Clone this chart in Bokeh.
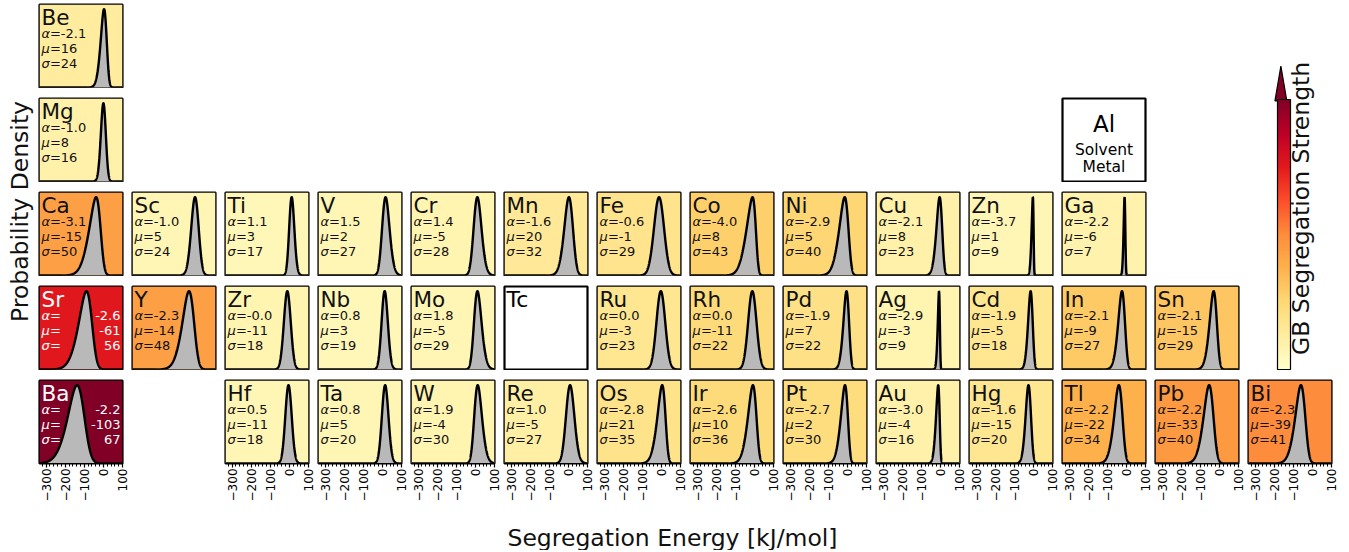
import math
import numpy as np
from bokeh.plotting import figure
from bokeh.models import (Range1d, LinearColorMapper, ColorBar, FixedTicker, GridBox,
                          ColumnDataSource, Label, SingleIntervalTicker, Spacer)
from bokeh.layouts import row, column
from bokeh.palettes import YlOrRd9
from bokeh.transform import transform
from bokeh.embed import file_html
from bokeh.resources import INLINE

# ---------------- data ----------------
elements = ["Be", "Mg", "Ca", "Sc", "Ti", "V", "Cr", "Mn", "Fe", "Co", "Ni", "Cu", "Zn", "Ga",
            "Sr", "Y", "Zr", "Nb", "Mo", "Ru", "Rh", "Pd", "Ag", "Cd", "In", "Sn",
            "Ba", "Hf", "Ta", "W", "Re", "Os", "Ir", "Pt", "Au", "Hg", "Tl", "Pb", "Bi"]
table_row = [0, 1, 2, 2, 2, 2, 2, 2, 2, 2, 2, 2, 2, 2,
             3, 3, 3, 3, 3, 3, 3, 3, 3, 3, 3, 3,
             4, 4, 4, 4, 4, 4, 4, 4, 4, 4, 4, 4, 4]
table_col = [0, 0, 0, 1, 2, 3, 4, 5, 6, 7, 8, 9, 10, 11,
             0, 1, 2, 3, 4, 6, 7, 8, 9, 10, 11, 12,
             0, 2, 3, 4, 5, 6, 7, 8, 9, 10, 11, 12, 13]
alpha = [-2.1, -1.0, -3.1, -1.0, 1.1, 1.5, 1.4, -1.6, -0.6, -4.0, -2.9, -2.1, -3.7, -2.2,
         -2.6, -2.3, -0.0, 0.8, 1.8, 0.0, 0.0, -1.9, -2.9, -1.9, -2.1, -2.1,
         -2.2, 0.5, 0.8, 1.9, 1.0, -2.8, -2.6, -2.7, -3.0, -1.6, -2.2, -2.2, -2.3]
mu = [16, 8, -15, 5, 3, 2, -5, 20, -1, 8, 5, 8, 1, -6,
      -61, -14, -11, 3, -5, -3, -11, 7, -3, -5, -9, -15,
      -103, -11, 5, -4, -5, 21, 10, 2, -4, -15, -22, -33, -39]
sigma = [24, 16, 50, 24, 17, 27, 28, 32, 29, 43, 40, 23, 9, 7,
         56, 48, 18, 19, 29, 23, 22, 22, 9, 18, 27, 29,
         67, 18, 20, 30, 27, 35, 36, 30, 16, 20, 34, 40, 41]
# GB segregation strength (colour scale 0..1)
strength = [0.13, 0.10, 0.44, 0.07, 0.06, 0.07, 0.08, 0.15, 0.18, 0.28, 0.26, 0.10, 0.07, 0.09,
            0.76, 0.44, 0.08, 0.06, 0.07, 0.17, 0.24, 0.20, 0.08, 0.17, 0.30, 0.31,
            1.00, 0.07, 0.07, 0.08, 0.11, 0.19, 0.24, 0.23, 0.10, 0.17, 0.38, 0.46, 0.50]
solvent = "Al"
solvent_pos = (1, 11)
missing = "Tc"
missing_pos = (3, 5)

x_limits = (-335, 100)
tick_values = [-300, -200, -100, 0, 100]
tick_labels = ["\u2212300", "\u2212200", "\u2212100", "0", "100"]

# ---------------- styling ----------------
FONT = "DejaVu Sans"
FW = 83
FH = 83
RB = 7          # extra right border so the last tick label is not clipped
CELLW = FW + 1 + RB
STEP = 93
stops = [tuple(int(c[i:i + 2], 16) for i in (1, 3, 5)) for c in reversed(YlOrRd9)]
pal = []
for k in range(256):
    t = k / 255 * (len(stops) - 1)
    i = min(int(t), len(stops) - 2)
    f = t - i
    rgb = [round(stops[i][j] + (stops[i + 1][j] - stops[i][j]) * f) for j in range(3)]
    pal.append("#%02x%02x%02x" % tuple(rgb))
mapper = LinearColorMapper(palette=pal, low=0, high=1)

erf = np.frompyfunc(math.erf, 1, 1)


def skewnorm_pdf(x, a, loc, scale):
    z = (x - loc) / scale
    phi = np.exp(-0.5 * z * z) / math.sqrt(2 * math.pi)
    Phi = 0.5 * (1.0 + erf(a * z / math.sqrt(2)).astype(float))
    return 2.0 * phi * Phi / scale


def base_fig(with_axis, top):
    p = figure(frame_width=FW, frame_height=FH, x_range=Range1d(*x_limits),
               y_range=Range1d(0, top), toolbar_location=None, output_backend="svg",
               min_border=1, min_border_right=RB,
               x_axis_location="below" if with_axis else None, y_axis_location=None)
    p.grid.visible = False
    p.outline_line_color = "black"
    p.outline_line_width = 2.2
    p.outline_line_alpha = 1
    if with_axis:
        ax = p.xaxis[0]
        ax.ticker = SingleIntervalTicker(interval=100, num_minor_ticks=5)
        ax.major_label_overrides = {v: l for v, l in zip(tick_values, tick_labels)}
        ax.major_label_orientation = math.pi / 2
        ax.major_label_text_font = FONT
        ax.major_label_text_font_size = "12px"
        ax.major_label_text_color = "black"
        ax.major_label_standoff = 1
        ax.axis_line_color = "black"
        ax.major_tick_in = 0
        ax.major_tick_out = 4
        ax.minor_tick_in = 0
        ax.minor_tick_out = 3
        ax.major_tick_line_color = "black"
        ax.minor_tick_line_color = "black"
        ax.major_tick_line_width = 1.2
        ax.minor_tick_line_width = 1
    return p


def lab(p, x, y, text, xo, yo, size, color="black", align="left", baseline="middle", style="normal"):
    p.add_layout(Label(x=x, y=y, x_offset=xo, y_offset=yo, text=text, text_font=FONT,
                       text_font_size=size, text_color=color, text_align=align,
                       text_baseline=baseline, text_font_style=style))


xs = np.linspace(x_limits[0], x_limits[1], 1200)
children = []
for i, el in enumerate(elements):
    pdf = skewnorm_pdf(xs, alpha[i], mu[i], sigma[i])
    top = pdf.max() * 1.06
    p = base_fig(table_row[i] == 4, top)
    src = ColumnDataSource(dict(s=[strength[i]]))
    p.quad(left=x_limits[0], right=x_limits[1], bottom=0, top=top, source=src,
           fill_color=transform("s", mapper), line_color=None)
    p.varea(x=xs, y1=np.zeros_like(xs), y2=pdf, fill_color="#b9b9b9")
    p.line(xs, pdf, line_color="black", line_width=2.4)
    dark = strength[i] > 0.65
    tc = "white" if dark else "#111111"
    x0, yt = x_limits[0], top
    lab(p, x0, yt, el, 2, 0, "21.5px", tc, baseline="top")
    greek = ["\u03b1", "\u03bc", "\u03c3"]
    vals = [f"{alpha[i]:.1f}", f"{mu[i]:d}", f"{sigma[i]:d}"]
    for k in range(3):
        yo = -(28.5 + 15 * k)
        lab(p, x0, yt, greek[k], 2, yo, "13px", tc, style="italic")
        if dark:
            lab(p, x0, yt, "=", 10.4, yo, "13px", tc)
            lab(p, x_limits[1], yt, vals[k], -2, yo, "13px", tc, align="right")
        else:
            lab(p, x0, yt, "=" + vals[k], 10.4, yo, "13px", tc)
    children.append((p, table_row[i], table_col[i]))

# solvent (Al) box
pa = base_fig(False, 1)
pa.background_fill_color = "white"
xm = (x_limits[0] + x_limits[1]) / 2
lab(pa, xm, 1, solvent, 0, -25, "23px", "black", align="center")
lab(pa, xm, 1, "Solvent", 0, -51, "15.5px", "black", align="center")
lab(pa, xm, 1, "Metal", 0, -68, "15.5px", "black", align="center")
children.append((pa, solvent_pos[0], solvent_pos[1]))

# missing element (Tc)
pt = base_fig(False, 1)
pt.background_fill_color = "white"
lab(pt, x_limits[0], 1, missing, 2, 0, "22px", "black", baseline="top")
children.append((pt, missing_pos[0], missing_pos[1]))

# colour bar column
CBW, CBH = CELLW, 4 * 85 + 3 * 9
cb = figure(width=CBW, height=CBH, x_range=Range1d(0, CBW), y_range=Range1d(0, CBH),
            toolbar_location=None, output_backend="svg", min_border=0,
            x_axis_location=None, y_axis_location=None, outline_line_color=None)
cb.grid.visible = False
bar = ColorBar(color_mapper=mapper, location=(29, 0), width=13, height=270, padding=0, margin=0,
               ticker=FixedTicker(ticks=[]), major_tick_line_color=None, minor_tick_line_color=None,
               major_label_text_font_size="0px", bar_line_color="black", bar_line_width=1.2,
               border_line_color=None, background_fill_alpha=0)
cb.add_layout(bar, "center")
cb.patch(x=[29, 42, 35.5], y=[270, 270, 305], fill_color=pal[-1], line_color="black", line_width=1.2)
cb.add_layout(Label(x=58, y=162, text="GB Segregation Strength", angle=math.pi / 2,
                    text_align="center", text_baseline="middle", text_font_size="23.5px",
                    text_font=FONT, text_color="#111111"))
children.append((cb, 0, 13, 4, 1))

grid = GridBox(children=children, spacing=(9, STEP - CELLW))

# shared axis labels
GW = 14 * CELLW + 13 * (STEP - CELLW)
xl = figure(width=GW, height=46, x_range=Range1d(0, GW), y_range=Range1d(0, 46),
            toolbar_location=None, output_backend="svg", min_border=0,
            x_axis_location=None, y_axis_location=None, outline_line_color=None)
xl.grid.visible = False
xl.add_layout(Label(x=634, y=13, text="Segregation Energy [kJ/mol]", text_align="center",
                    text_baseline="middle", text_font_size="23.5px", text_font=FONT,
                    text_color="#111111"))

YH = 4 * 94 + 85
yl = figure(width=38, height=YH, x_range=Range1d(0, 38), y_range=Range1d(0, YH),
            toolbar_location=None, output_backend="svg", min_border=0,
            x_axis_location=None, y_axis_location=None, outline_line_color=None)
yl.grid.visible = False
yl.add_layout(Label(x=19, y=YH - 208, text="Probability Density", angle=math.pi / 2,
                    text_align="center", text_baseline="middle", text_font_size="23.5px",
                    text_font=FONT, text_color="#111111"))

root = column(Spacer(width=10, height=3), row(yl, column(grid, xl)))

open("out.html", "w").write(file_html(root, INLINE))
